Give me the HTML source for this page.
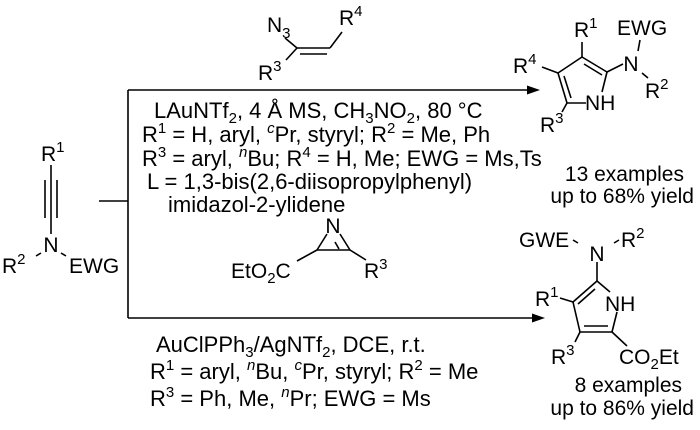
<!DOCTYPE html>
<html><head><meta charset="utf-8"><style>
html,body{margin:0;padding:0;background:#fff;}
svg{display:block;font-family:"Liberation Sans",Arial,sans-serif;}
text{font-size:21px;fill:#000;}
.c{font-size:22px;}
.s{font-size:15px;}
</style></head><body>
<svg width="700" height="430" viewBox="0 0 700 430" xmlns="http://www.w3.org/2000/svg">
<g stroke="#000" stroke-width="1.6" fill="none">
<line x1="128" y1="90" x2="128" y2="318"/>
<line x1="99" y1="201" x2="128" y2="201"/>
<line x1="128" y1="90" x2="530" y2="90"/>
<line x1="128" y1="318" x2="535" y2="318"/>
<line x1="51" y1="165" x2="51" y2="234"/>
<line x1="45" y1="180" x2="45" y2="218"/>
<line x1="57" y1="180" x2="57" y2="218"/>
<line x1="36" y1="256" x2="41" y2="253"/>
<line x1="61" y1="253" x2="66" y2="256"/>
<line x1="285" y1="38" x2="297" y2="48"/>
<line x1="297" y1="48" x2="330" y2="48"/>
<line x1="300" y1="54" x2="327" y2="54"/>
<line x1="330" y1="48" x2="342" y2="32"/>
<line x1="297" y1="48" x2="286" y2="60"/>
<line x1="582" y1="42" x2="582" y2="57"/>
<line x1="582" y1="57" x2="558" y2="73"/>
<line x1="582" y1="57" x2="607" y2="72"/>
<line x1="584" y1="64" x2="602" y2="75"/>
<line x1="558" y1="73" x2="567" y2="103"/>
<line x1="564" y1="76" x2="571" y2="98"/>
<line x1="567" y1="103" x2="586" y2="103"/>
<line x1="607" y1="72" x2="602" y2="92"/>
<line x1="558" y1="73" x2="542" y2="67"/>
<line x1="567" y1="103" x2="562" y2="112"/>
<line x1="607" y1="72" x2="623" y2="64"/>
<line x1="640" y1="40" x2="638" y2="51"/>
<line x1="642" y1="73" x2="648" y2="78"/>
<line x1="327" y1="234" x2="317" y2="250"/>
<line x1="340" y1="234" x2="350" y2="250"/>
<line x1="335" y1="242" x2="339" y2="249"/>
<line x1="317" y1="250" x2="350" y2="250"/>
<line x1="317" y1="250" x2="297" y2="261"/>
<line x1="350" y1="250" x2="366" y2="260"/>
<line x1="573" y1="240" x2="578" y2="243"/>
<line x1="614" y1="243" x2="619" y2="240"/>
<line x1="597" y1="262" x2="597" y2="281"/>
<line x1="597" y1="281" x2="573" y2="302"/>
<line x1="595" y1="289" x2="578" y2="304"/>
<line x1="597" y1="281" x2="610" y2="292"/>
<line x1="573" y1="302" x2="580" y2="332"/>
<line x1="573" y1="302" x2="560" y2="298"/>
<line x1="580" y1="332" x2="612" y2="332"/>
<line x1="584" y1="326" x2="608" y2="326"/>
<line x1="612" y1="332" x2="617" y2="312"/>
<line x1="580" y1="332" x2="575" y2="342"/>
<line x1="612" y1="332" x2="627" y2="346"/>
</g>
<polygon points="540,90 527,85.5 527,94.5" fill="#000"/>
<polygon points="545,318 532,313.5 532,322.5" fill="#000"/>

<text x="41" y="161">R<tspan class="s" dy="-9">1</tspan></text>
<text x="51" y="252" text-anchor="middle">N</text>
<text x="2" y="273">R<tspan class="s" dy="-9">2</tspan></text>
<text x="69" y="273">EWG</text>

<text x="267" y="32">N<tspan class="s" dy="6">3</tspan></text>
<text x="339" y="25">R<tspan class="s" dy="-9">4</tspan></text>
<text x="258" y="80">R<tspan class="s" dy="-9">3</tspan></text>

<text class="c" x="154" y="118">LAuNTf<tspan class="s" dy="5">2</tspan><tspan dy="-5">, 4 Å MS, CH</tspan><tspan class="s" dy="5">3</tspan><tspan dy="-5">NO</tspan><tspan class="s" dy="5">2</tspan><tspan dy="-5">, 80 °C</tspan></text>
<text class="c" x="142" y="142">R<tspan class="s" dy="-9">1</tspan><tspan dy="9"> = H, aryl, </tspan><tspan class="s" font-style="italic" dy="-9">c</tspan><tspan dy="9">Pr, styryl; R</tspan><tspan class="s" dy="-9">2</tspan><tspan dy="9"> = Me, Ph</tspan></text>
<text class="c" x="142" y="166">R<tspan class="s" dy="-9">3</tspan><tspan dy="9"> = aryl, </tspan><tspan class="s" font-style="italic" dy="-9">n</tspan><tspan dy="9">Bu; R</tspan><tspan class="s" dy="-9">4</tspan><tspan dy="9"> = H, Me; EWG = Ms,Ts</tspan></text>
<text class="c" x="147" y="189">L = 1,3-bis(2,6-diisopropylphenyl)</text>
<text class="c" x="168" y="212">imidazol-2-ylidene</text>

<text x="574" y="37">R<tspan class="s" dy="-9">1</tspan></text>
<text x="617" y="35">EWG</text>
<text x="513" y="73">R<tspan class="s" dy="-9">4</tspan></text>
<text x="631" y="71" text-anchor="middle">N</text>
<text x="645" y="98">R<tspan class="s" dy="-9">2</tspan></text>
<text x="585" y="110">NH</text>
<text x="540" y="132">R<tspan class="s" dy="-9">3</tspan></text>
<text x="684" y="181" text-anchor="end">13 examples</text>
<text x="694" y="203" text-anchor="end">up to 68% yield</text>

<text x="333" y="233" text-anchor="middle">N</text>
<text x="231" y="278">EtO<tspan class="s" dy="5">2</tspan><tspan dy="-5">C</tspan></text>
<text x="364" y="278">R<tspan class="s" dy="-9">3</tspan></text>

<text class="c" x="156" y="352">AuClPPh<tspan class="s" dy="5">3</tspan><tspan dy="-5">/AgNTf</tspan><tspan class="s" dy="5">2</tspan><tspan dy="-5">, DCE, r.t.</tspan></text>
<text class="c" x="150" y="379">R<tspan class="s" dy="-9">1</tspan><tspan dy="9"> = aryl, </tspan><tspan class="s" font-style="italic" dy="-9">n</tspan><tspan dy="9">Bu, </tspan><tspan class="s" font-style="italic" dy="-9">c</tspan><tspan dy="9">Pr, styryl; R</tspan><tspan class="s" dy="-9">2</tspan><tspan dy="9"> = Me</tspan></text>
<text class="c" x="150" y="406">R<tspan class="s" dy="-9">3</tspan><tspan dy="9"> = Ph, Me, </tspan><tspan class="s" font-style="italic" dy="-9">n</tspan><tspan dy="9">Pr; EWG = Ms</tspan></text>

<text x="519" y="247">GWE</text>
<text x="597" y="261" text-anchor="middle">N</text>
<text x="621" y="247">R<tspan class="s" dy="-9">2</tspan></text>
<text x="535" y="306">R<tspan class="s" dy="-9">1</tspan></text>
<text x="605" y="311">NH</text>
<text x="551" y="364">R<tspan class="s" dy="-9">3</tspan></text>
<text x="619" y="364">CO<tspan class="s" dy="5">2</tspan><tspan dy="-5">Et</tspan></text>
<text x="682" y="392" text-anchor="end">8 examples</text>
<text x="694" y="415" text-anchor="end">up to 86% yield</text>
</svg>
</body></html>
